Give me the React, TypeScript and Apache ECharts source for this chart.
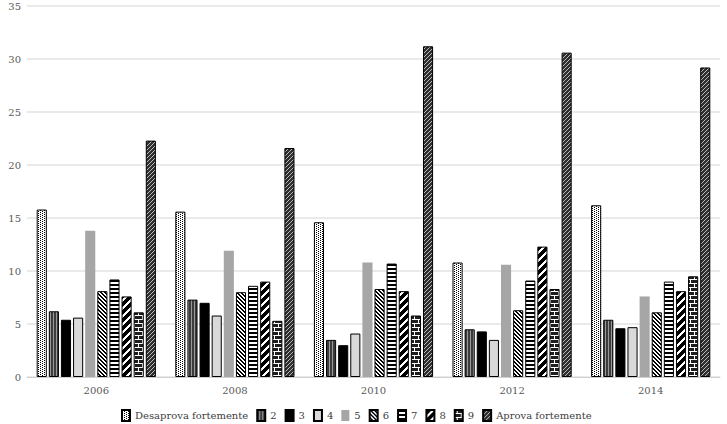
import React, { useEffect, useRef } from "react";
import * as echarts from "echarts";

const years = ["2006", "2008", "2010", "2012", "2014"];
const seriesNames = ["Desaprova fortemente", "2", "3", "4", "5", "6", "7", "8", "9", "Aprova fortemente"];
const desaprova = [15.8, 15.6, 14.6, 10.8, 16.2];
const s2 = [6.2, 7.3, 3.5, 4.5, 5.4];
const s3 = [5.4, 7.0, 3.0, 4.3, 4.6];
const s4 = [5.6, 5.8, 4.1, 3.5, 4.7];
const s5 = [13.8, 11.9, 10.8, 10.6, 7.6];
const s6 = [8.1, 8.0, 8.3, 6.3, 6.1];
const s7 = [9.2, 8.6, 10.7, 9.1, 9.0];
const s8 = [7.6, 9.0, 8.1, 12.3, 8.1];
const s9 = [6.1, 5.3, 5.8, 8.3, 9.5];
const aprova = [22.3, 21.6, 31.2, 30.6, 29.2];
const allValues = [desaprova, s2, s3, s4, s5, s6, s7, s8, s9, aprova];

type PixFn = (x: number, y: number) => string;

function makePattern(w: number, h: number, fn: PixFn) {
  const c = document.createElement("canvas");
  c.width = w;
  c.height = h;
  const ctx = c.getContext("2d")!;
  for (let y = 0; y < h; y++) {
    for (let x = 0; x < w; x++) {
      ctx.fillStyle = fn(x, y);
      ctx.fillRect(x, y, 1, 1);
    }
  }
  return { image: c, repeat: "repeat", imageWidth: w, imageHeight: h } as any;
}

function buildFills(): any[] {
  const B = "#000000";
  const W = "#ffffff";
  return [
    makePattern(4, 4, (x, y) => ((x === 0 && y % 2 === 0) || (x === 2 && y % 2 === 1) ? B : W)),
    makePattern(3, 1, (x) => (x < 2 ? "#3c3c3c" : "#9a9a9a")),
    "#000000",
    "#d9d9d9",
    "#a6a6a6",
    makePattern(4, 4, (x, y) => (((x - y + 8) % 4) < 2 ? B : W)),
    makePattern(1, 4, (_x, y) => (y < 2 ? B : W)),
    makePattern(8, 8, (x, y) => (((x + y) % 8) < 5 ? B : W)),
    makePattern(8, 8, (x, y) => {
      if (y === 3 || y === 7) return W;
      if (y < 3 && x === 2) return W;
      if (y > 3 && y < 7 && x === 6) return W;
      return "#1e1e1e";
    }),
    makePattern(4, 4, (x, y) => (((x + y) % 4) === 0 ? "#bdbdbd" : "#2e2e2e")),
  ];
}

export default function App() {
  const ref = useRef<HTMLDivElement>(null);
  useEffect(() => {
    document.body.style.margin = "0";
    const chart = echarts.init(ref.current!, undefined, { renderer: "svg" });
    const fills = buildFills();
    const font = "DejaVu Serif";
    const series = seriesNames.map((name, i) => ({
      name,
      type: "bar",
      data: allValues[i],
      barGap: "20%",
      barCategoryGap: "14%",
      itemStyle: {
        color: fills[i],
        borderColor: i === 4 ? "#a6a6a6" : "#000000",
        borderWidth: i === 4 ? 0 : 1,
      },
    }));
    chart.setOption({
      animation: false,
      textStyle: { fontFamily: font },
      grid: { left: 27, right: 7, top: 6, bottom: 47, containLabel: false },
      legend: {
        bottom: -3,
        left: 116,
        icon: "rect",
        itemWidth: 8,
        itemHeight: 11,
        itemGap: 8,
        textStyle: { fontFamily: font, fontSize: 10, color: "#404040" },
        data: seriesNames,
      },
      xAxis: {
        type: "category",
        data: years,
        axisTick: { show: false },
        axisLine: { lineStyle: { color: "#d0d0d0" } },
        axisLabel: { fontFamily: font, fontSize: 10, color: "#595959", margin: 8 },
      },
      yAxis: {
        type: "value",
        min: 0,
        max: 35,
        interval: 5,
        axisLine: { show: false },
        axisTick: { show: false },
        splitLine: { lineStyle: { color: "#e3e3e3", width: 1.5 } },
        axisLabel: { fontFamily: font, fontSize: 10, color: "#595959", margin: 6 },
      },
      series,
    });
    return () => chart.dispose();
  }, []);
  return <div ref={ref} style={{ width: 727, height: 424 }} />;
}
